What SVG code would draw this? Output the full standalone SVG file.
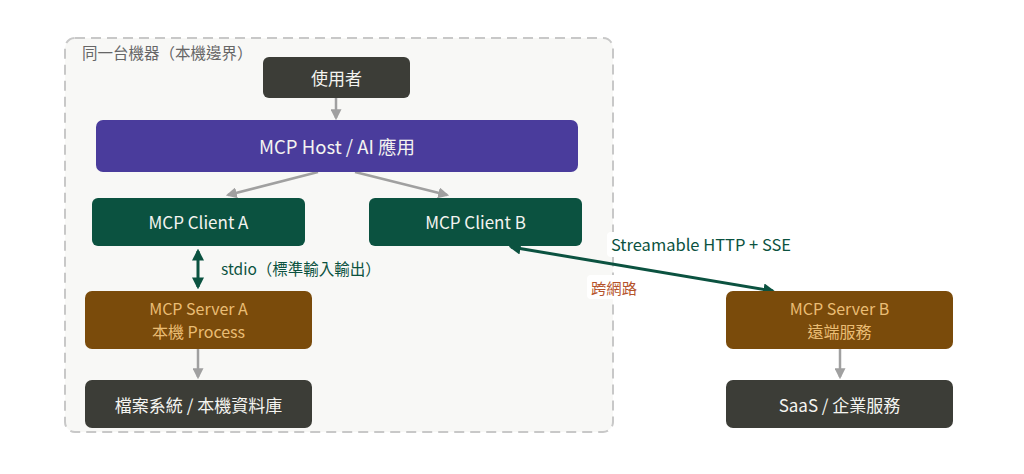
<svg xmlns="http://www.w3.org/2000/svg" width="1024" height="474" viewBox="0 0 1024 474">
<defs>
<style>
text{font-family:"Noto Sans CJK TC","Noto Sans",sans-serif;font-size:17px;text-anchor:middle;dominant-baseline:central}
.dark{fill:#3c3d37}
.host{fill:#4a3c9c}
.client{fill:#0b5240}
.server{fill:#7a4b0b}
.lt{fill:#f4f4f0}
.st{fill:#eabd74;font-size:16px}
.g{stroke:#a0a0a0;stroke-width:2.5;fill:none}
.s{stroke:#0b5240;stroke-width:3;fill:none}
</style>
<marker id="ag" viewBox="0 0 10 10" refX="8" refY="5" markerWidth="4.4" markerHeight="4.4" orient="auto-start-reverse"><path d="M0,0L10,5L0,10z" fill="#a0a0a0"/></marker>
<marker id="as" viewBox="0 0 10 10" refX="8" refY="5" markerWidth="4" markerHeight="4" orient="auto-start-reverse"><path d="M0,0L10,5L0,10z" fill="#0b5240"/></marker>
</defs>
<rect width="1024" height="474" fill="#ffffff"/>
<g id="boundary">
<rect x="65" y="38" width="548" height="394" rx="10" fill="#f8f8f6" stroke="#c8c8c8" stroke-width="2" stroke-dasharray="10 6"/>
<text x="82" y="52" style="text-anchor:start;font-size:15.5px;fill:#666">同一台機器（本機邊界）</text>
</g>
<g id="connectors">
<line class="g" x1="336" y1="98" x2="336" y2="118" marker-end="url(#ag)"/>
<line class="g" x1="318" y1="172" x2="228" y2="195" marker-end="url(#ag)"/>
<line class="g" x1="355" y1="172" x2="447" y2="195" marker-end="url(#ag)"/>
<line class="g" x1="198" y1="349" x2="198" y2="377" marker-end="url(#ag)"/>
<line class="g" x1="840" y1="349" x2="840" y2="377" marker-end="url(#ag)"/>
<line class="s" x1="198" y1="251" x2="198" y2="287" marker-start="url(#as)" marker-end="url(#as)"/>
<line class="s" x1="511" y1="247" x2="773" y2="291" marker-start="url(#as)" marker-end="url(#as)"/>
<text x="221" y="268" style="text-anchor:start;font-size:15.5px;fill:#0b5240">stdio（標準輸入輸出）</text>
<rect x="607" y="232" width="188" height="25" rx="4" fill="#ffffff"/>
<text x="701" y="244" style="font-size:16.5px;fill:#0b5240">Streamable HTTP + SSE</text>
<rect x="587" y="275" width="54" height="24" rx="4" fill="#ffffff"/>
<text x="614" y="287" style="font-size:15.3px;fill:#b5532b">跨網路</text>
</g>
<g id="user"><rect class="dark" x="263" y="57" width="147" height="41" rx="6"/><text class="lt" x="336.5" y="77.5">使用者</text></g>
<g id="host"><rect class="host" x="96" y="120" width="482" height="52" rx="7"/><text class="lt" x="337" y="146" style="font-size:18.5px">MCP Host / AI 應用</text></g>
<g id="clientA"><rect class="client" x="92" y="198" width="213" height="48" rx="6"/><text class="lt" x="198.5" y="221">MCP Client A</text></g>
<g id="clientB"><rect class="client" x="369" y="198" width="213" height="48" rx="6"/><text class="lt" x="475.5" y="221">MCP Client B</text></g>
<g id="serverA"><rect class="server" x="85" y="291" width="227" height="58" rx="7"/><text class="st" x="198.5" y="308">MCP Server A</text><text class="st" x="198.5" y="331">本機 Process</text></g>
<g id="fs"><rect class="dark" x="85" y="380" width="227" height="48" rx="7"/><text class="lt" x="198.5" y="404">檔案系統 / 本機資料庫</text></g>
<g id="serverB"><rect class="server" x="726" y="291" width="227" height="58" rx="7"/><text class="st" x="839.5" y="308">MCP Server B</text><text class="st" x="839.5" y="331">遠端服務</text></g>
<g id="saas"><rect class="dark" x="726" y="380" width="227" height="48" rx="7"/><text class="lt" x="839.5" y="404">SaaS / 企業服務</text></g>
</svg>
